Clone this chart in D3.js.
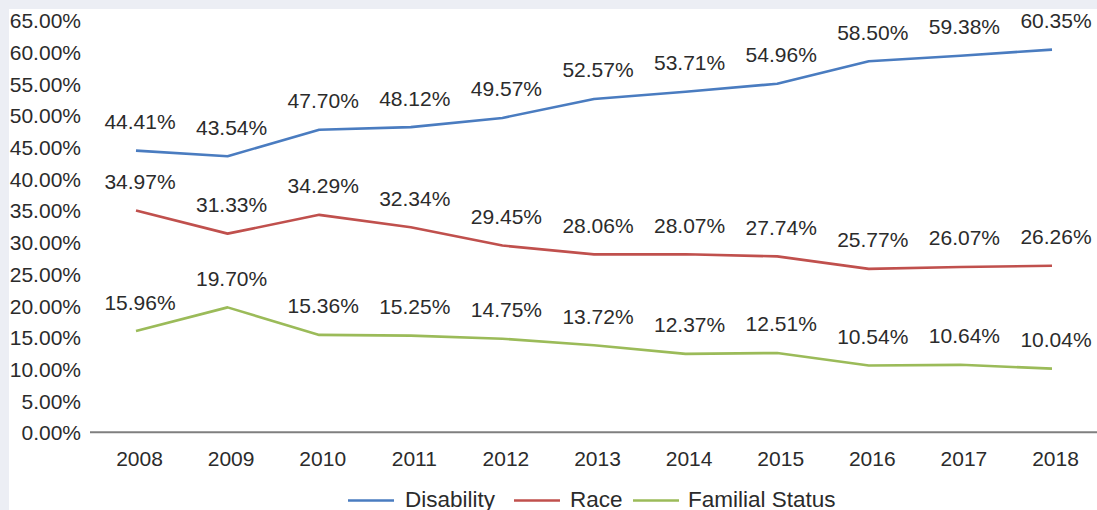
<!DOCTYPE html>
<html>
<head>
<meta charset="utf-8">
<script src="https://cdn.jsdelivr.net/npm/d3@7"></script>
<style>
  html, body { margin: 0; padding: 0; background: #eceef4; }
  svg { display: block; }
  text { font-family: "Liberation Sans", Arial, Helvetica, sans-serif; fill: #2b2b2b; }
</style>
</head>
<body>
<svg id="chart" width="1097" height="510"></svg>
<script>
const years = [2008, 2009, 2010, 2011, 2012, 2013, 2014, 2015, 2016, 2017, 2018];
const disability = [44.41, 43.54, 47.70, 48.12, 49.57, 52.57, 53.71, 54.96, 58.50, 59.38, 60.35];
const race = [34.97, 31.33, 34.29, 32.34, 29.45, 28.06, 28.07, 27.74, 25.77, 26.07, 26.26];
const familial = [15.96, 19.70, 15.36, 15.25, 14.75, 13.72, 12.37, 12.51, 10.54, 10.64, 10.04];
const seriesNames = ["Disability", "Race", "Familial Status"];
const seriesColors = ["#4a7cc0", "#c0504d", "#9bbb59"];
const yTicks = [0, 5, 10, 15, 20, 25, 30, 35, 40, 45, 50, 55, 60, 65];

const series = [disability, race, familial].map((vals, i) => ({
  name: seriesNames[i], color: seriesColors[i], values: vals
}));

const svg = d3.select("#chart");
svg.append("rect").attr("x", 9).attr("y", 9).attr("width", 1097 - 9).attr("height", 510 - 9).attr("fill", "#ffffff");

const x = d3.scalePoint().domain(years).range([136, 1052]);
const y = d3.scaleLinear().domain([0, 65]).range([432.3, 20.1]);

// Y axis labels
const yAxis = d3.axisLeft(y).tickValues(yTicks).tickSize(0).tickPadding(0)
  .tickFormat(d => d.toFixed(2) + "%");
const yg = svg.append("g").attr("transform", "translate(81,0)").call(yAxis);
yg.select(".domain").remove();
yg.selectAll("text").style("font-size", "21px").attr("fill", "#2b2b2b")
  .attr("font-family", "Liberation Sans, Arial, sans-serif").attr("dy", "0.36em");

// X axis
const xAxis = d3.axisBottom(x).tickSize(0).tickPadding(0).tickFormat(d => String(d));
const xg = svg.append("g").attr("transform", "translate(0,432.3)").call(xAxis);
xg.select(".domain").remove();
xg.selectAll("text").style("font-size", "21px").attr("fill", "#2b2b2b")
  .attr("font-family", "Liberation Sans, Arial, sans-serif")
  .attr("dy", null).attr("y", 34).attr("dx", 3);
svg.append("line").attr("x1", 90).attr("x2", 1097).attr("y1", 432.3).attr("y2", 432.3)
  .attr("stroke", "#7f7f7f").attr("stroke-width", 2);

// Lines
const line = d3.line().x((d, i) => x(years[i])).y(d => y(d));
series.forEach(s => {
  svg.append("path").datum(s.values).attr("d", line)
    .attr("fill", "none").attr("stroke", s.color).attr("stroke-width", 2.6)
    .attr("stroke-linejoin", "round");
  svg.append("g").selectAll("text").data(s.values).join("text")
    .attr("x", (d, i) => x(years[i]) + 4)
    .attr("y", d => y(d) - 21.5)
    .attr("text-anchor", "middle")
    .style("font-size", "21px")
    .text(d => d.toFixed(2) + "%");
});

// Legend
const legendItems = [
  { lx: 348, tx: 405 },
  { lx: 514, tx: 570 },
  { lx: 633, tx: 688 }
];
const lg = svg.append("g");
series.forEach((s, i) => {
  const it = legendItems[i];
  lg.append("line").attr("x1", it.lx).attr("x2", it.lx + 46).attr("y1", 500.5).attr("y2", 500.5)
    .attr("stroke", s.color).attr("stroke-width", 2.6);
  lg.append("text").attr("x", it.tx).attr("y", 506.5).style("font-size", "22.5px").text(s.name);
});
</script>
</body>
</html>
